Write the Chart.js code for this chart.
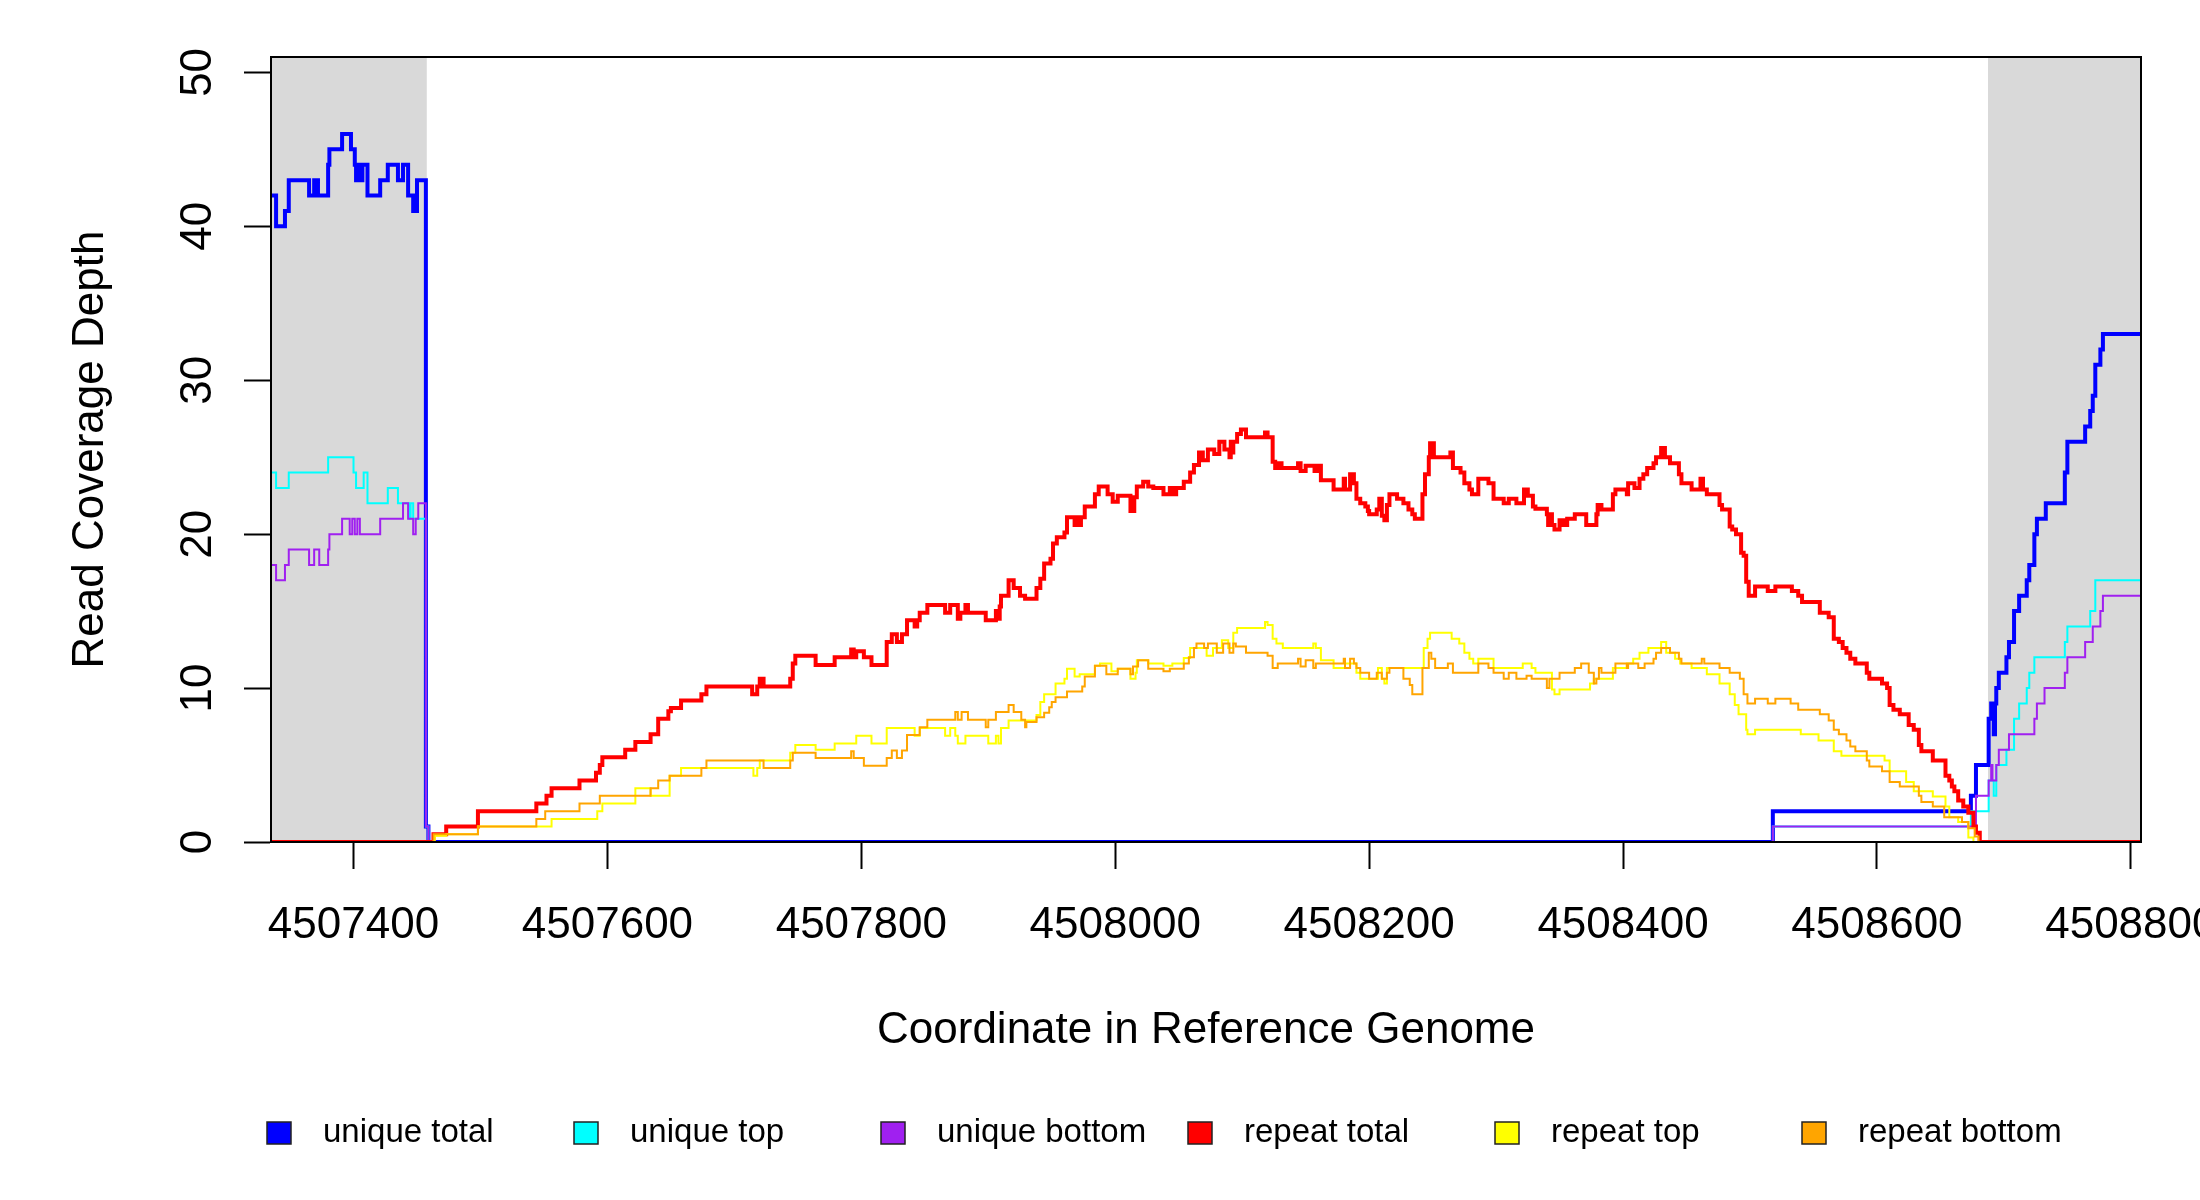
<!DOCTYPE html>
<html>
<head>
<meta charset="utf-8">
<title>Read Coverage Depth</title>
<script src="https://cdn.jsdelivr.net/npm/chart.js@4/dist/chart.umd.min.js"></script>
<style>
  html, body { margin: 0; padding: 0; background: #fff; }
  #chart { display: block; }
</style>
</head>
<body>
<canvas id="chart" width="2200" height="1200"></canvas>
<script>
// step points: [genome coordinate where the step starts, depth]
const uniqueTotal = [
  [4507335,42],[4507339,40],[4507346,41],[4507349,43],[4507365,42],[4507369,43],[4507372,42],[4507380,44],
  [4507381,45],[4507391,46],[4507398,45],[4507401,44],[4507402,43],[4507404,44],[4507405,43],[4507407,44],
  [4507411,42],[4507421,43],[4507427,44],[4507435,43],[4507439,44],[4507443,42],[4507447,41],[4507450,43],
  [4507457,1],[4507459,0],[4508518,2],[4508674,3],[4508678,5],[4508688,8],[4508690,9],[4508692,7],
  [4508693,9],[4508694,10],[4508696,11],[4508702,12],[4508704,13],[4508708,15],[4508712,16],[4508718,17],
  [4508720,18],[4508724,20],[4508726,21],[4508733,22],[4508748,24],[4508750,26],[4508764,27],[4508768,28],
  [4508770,29],[4508772,31],[4508776,32],[4508778,33],[4508808,33]
];

const uniqueTop = [
  [4507335,24],[4507339,23],[4507349,24],[4507380,25],[4507400,24],[4507402,23],[4507408,24],[4507411,22],
  [4507427,23],[4507435,22],[4507444,21],[4507445,22],[4507447,21],[4507457,1],[4507459,0],[4508518,1],
  [4508674,2],[4508688,4],[4508692,3],[4508694,5],[4508702,6],[4508708,8],[4508712,9],[4508718,10],
  [4508720,11],[4508724,12],[4508748,13],[4508750,14],[4508768,15],[4508772,17],[4508808,17]
];

const uniqueBottom = [
  [4507335,18],[4507339,17],[4507346,18],[4507349,19],[4507365,18],[4507369,19],[4507373,18],[4507380,19],
  [4507381,20],[4507391,21],[4507397,20],[4507399,21],[4507401,20],[4507403,21],[4507405,20],[4507421,21],
  [4507439,22],[4507443,21],[4507447,20],[4507449,21],[4507451,22],[4507457,1],[4507459,0],[4508518,1],
  [4508678,3],[4508688,4],[4508690,5],[4508691,4],[4508694,5],[4508696,6],[4508704,7],[4508724,8],
  [4508726,9],[4508732,10],[4508748,11],[4508750,12],[4508764,13],[4508770,14],[4508776,15],[4508778,16],
  [4508808,16]
];

const repeatTotal = [
  [4507335,0],[4507463,0.5],[4507473,1],[4507498,2],[4507544,2.5],[4507552,3],[4507556,3.5],[4507578,4],
  [4507591,4.5],[4507594,5],[4507596,5.5],[4507614,6],[4507622,6.5],[4507634,7],[4507640,8],[4507648,8.5],
  [4507650,8.7],[4507658,9.2],[4507674,9.6],[4507678,10.1],[4507714,9.6],[4507718,10.1],[4507720,10.6],[4507723,10.1],
  [4507744,10.6],[4507746,11.6],[4507748,12.1],[4507764,11.5],[4507779,12],[4507792,12.5],[4507794,12],[4507796,12.4],
  [4507802,12],[4507808,11.5],[4507820,13],[4507824,13.5],[4507828,13],[4507832,13.5],[4507836,14.4],[4507842,14],
  [4507844,14.4],[4507846,14.9],[4507852,15.4],[4507866,14.9],[4507870,15.4],[4507876,14.5],[4507878,14.9],[4507882,15.4],
  [4507884,14.9],[4507898,14.4],[4507906,15],[4507908,14.5],[4507909,15.3],[4507910,16],[4507916,17],[4507920,16.5],
  [4507925,16],[4507929,15.8],[4507938,16.5],[4507941,17.1],[4507944,18.1],[4507949,18.4],[4507951,19.4],[4507954,19.8],
  [4507960,20.1],[4507962,21.1],[4507968,20.6],[4507970,21.1],[4507971,20.6],[4507973,21.1],[4507976,21.8],[4507984,22.6],
  [4507987,23.1],[4507994,22.6],[4507998,22.1],[4508002,22.5],[4508012,21.5],[4508015,22.4],[4508017,23.1],[4508022,23.4],
  [4508026,23.1],[4508030,23],[4508038,22.6],[4508043,23],[4508045,22.6],[4508048,23],[4508054,23.4],[4508059,24],
  [4508062,24.5],[4508066,25.3],[4508069,24.8],[4508073,25.5],[4508078,25.2],[4508082,26],[4508086,25.5],[4508090,25],
  [4508091,26],[4508092,25.3],[4508093,26],[4508096,26.5],[4508099,26.8],[4508103,26.3],[4508118,26.6],[4508120,26.3],
  [4508124,24.7],[4508126,24.3],[4508128,24.6],[4508131,24.3],[4508144,24.6],[4508146,24.1],[4508150,24.45],[4508157,24.1],
  [4508159,24.45],[4508162,23.5],[4508172,22.9],[4508180,23.6],[4508181,22.9],[4508185,23.9],[4508188,23.3],[4508190,22.3],
  [4508193,22],[4508197,21.8],[4508199,21.5],[4508200,21.3],[4508206,21.6],[4508208,22.3],[4508210,21.2],[4508212,20.9],
  [4508214,21.9],[4508216,22.6],[4508222,22.3],[4508227,22],[4508231,21.6],[4508234,21.3],[4508236,21],[4508242,22.6],
  [4508244,23.9],[4508247,25],[4508248,25.9],[4508251,25],[4508264,25.3],[4508266,24.3],[4508272,24],[4508275,23.3],
  [4508279,22.9],[4508281,22.6],[4508286,23.6],[4508294,23.3],[4508298,22.3],[4508306,22],[4508310,22.3],[4508316,22],
  [4508322,22.9],[4508325,22.5],[4508329,21.8],[4508331,21.65],[4508340,21.3],[4508341,20.6],[4508342,21.3],[4508344,20.6],
  [4508346,20.3],[4508350,20.9],[4508353,20.6],[4508356,21],[4508362,21.3],[4508371,20.6],[4508379,21.3],[4508380,21.9],
  [4508383,21.6],[4508392,22.6],[4508394,22.9],[4508403,22.6],[4508404,23.3],[4508409,23],[4508413,23.6],[4508416,23.9],
  [4508419,24.3],[4508424,24.6],[4508426,25],[4508430,25.6],[4508433,25],[4508437,24.6],[4508444,23.9],[4508446,23.3],
  [4508454,22.9],[4508461,23.6],[4508463,22.9],[4508466,22.6],[4508476,21.9],[4508478,21.6],[4508484,20.5],[4508486,20.3],
  [4508489,20],[4508493,18.8],[4508495,18.6],[4508497,16.9],[4508499,16],[4508504,16.6],[4508514,16.3],[4508520,16.6],
  [4508533,16.3],[4508538,16],[4508541,15.6],[4508555,14.9],[4508562,14.6],[4508566,13.2],[4508570,13],[4508573,12.6],
  [4508576,12.3],[4508579,11.9],[4508583,11.6],[4508592,11],[4508594,10.6],[4508604,10.3],[4508608,10],[4508610,8.9],
  [4508613,8.6],[4508618,8.3],[4508625,7.6],[4508629,7.3],[4508633,6.3],[4508635,5.9],[4508644,5.3],[4508654,4.3],
  [4508657,4],[4508659,3.6],[4508661,3.3],[4508664,2.7],[4508668,2.3],[4508672,1.9],[4508676,1],[4508678,0.6],
  [4508681,0],[4508808,0]
];

const repeatTop = [
  [4507335,0],[4507464,0.4],[4507473,0.5],[4507498,1],[4507556,1.5],[4507592,2],[4507596,2.5],[4507622,3.5],
  [4507634,3],[4507649,4.3],[4507658,4.8],[4507715,4.3],[4507718,4.8],[4507720,5.3],[4507744,5.8],[4507748,6.3],
  [4507764,6],[4507779,6.4],[4507796,6.9],[4507808,6.4],[4507820,7.4],[4507842,6.9],[4507846,7.4],[4507866,6.9],
  [4507870,7.4],[4507874,6.9],[4507876,6.4],[4507882,6.9],[4507900,6.4],[4507906,6.9],[4507908,6.4],[4507910,7.4],
  [4507916,7.9],[4507938,8.25],[4507941,9.1],[4507944,9.6],[4507953,10.3],[4507960,10.6],[4507962,11.25],[4507968,10.75],
  [4507972,10.9],[4507984,11.45],[4507988,11.6],[4507997,11.1],[4508002,11.25],[4508012,10.6],[4508016,11],[4508017,11.8],
  [4508026,11.6],[4508038,11.45],[4508045,11.6],[4508054,11.95],[4508059,12.6],[4508072,12.1],[4508077,12.6],[4508084,13.1],
  [4508089,12.6],[4508093,13.6],[4508096,13.9],[4508118,14.3],[4508120,14.1],[4508124,13.2],[4508127,12.9],[4508132,12.6],
  [4508156,12.9],[4508158,12.6],[4508162,11.8],[4508172,11.3],[4508181,11.6],[4508190,11],[4508193,10.6],[4508207,11.3],
  [4508210,10.6],[4508212,10.3],[4508214,11.3],[4508243,12.6],[4508246,13.2],[4508248,13.6],[4508265,13.2],[4508271,12.9],
  [4508275,12.3],[4508279,11.9],[4508282,11.6],[4508286,11.9],[4508298,11.3],[4508321,11.6],[4508328,11.3],[4508331,11],
  [4508344,9.9],[4508346,9.6],[4508350,9.9],[4508374,10.3],[4508377,10.6],[4508392,11.3],[4508403,11.6],[4508408,11.9],
  [4508413,12.3],[4508420,12.6],[4508430,13],[4508434,12.3],[4508441,11.9],[4508445,11.6],[4508454,11.3],[4508466,10.9],
  [4508476,10.3],[4508484,9.6],[4508488,8.9],[4508491,8.3],[4508497,7.3],[4508498,7],[4508504,7.3],[4508540,7],
  [4508554,6.6],[4508566,5.9],[4508572,5.6],[4508606,5.3],[4508610,4.6],[4508623,3.9],[4508629,3.3],[4508644,2.95],
  [4508654,2.3],[4508657,1.6],[4508664,1.3],[4508672,0.3],[4508676,0],[4508808,0]
];

const repeatBottom = [
  [4507335,0],[4507463,0.5],[4507498,1],[4507544,1.5],[4507551,2],[4507578,2.5],[4507594,3],[4507634,3.5],
  [4507640,4],[4507649,4.3],[4507674,4.8],[4507678,5.3],[4507723,4.8],[4507744,5.3],[4507746,5.8],[4507764,5.45],
  [4507792,5.9],[4507794,5.45],[4507802,4.95],[4507820,5.45],[4507824,5.95],[4507828,5.45],[4507832,5.95],[4507836,6.95],
  [4507846,7.45],[4507852,7.95],[4507874,8.45],[4507876,7.95],[4507879,8.45],[4507884,7.95],[4507898,7.45],[4507900,7.95],
  [4507906,8.45],[4507916,8.9],[4507920,8.45],[4507926,7.95],[4507929,7.45],[4507930,7.8],[4507938,8.1],[4507944,8.4],
  [4507948,8.75],[4507950,9.1],[4507953,9.4],[4507962,9.77],[4507974,10.1],[4507976,10.75],[4507984,11.45],[4507993,10.9],
  [4508002,11.25],[4508012,10.9],[4508014,11.4],[4508018,11.8],[4508026,11.25],[4508038,11.1],[4508043,11.25],[4508054,11.6],
  [4508058,12],[4508062,12.6],[4508064,12.9],[4508070,12.6],[4508073,12.9],[4508080,12.3],[4508085,12.9],[4508090,12.3],
  [4508093,12.9],[4508095,12.7],[4508103,12.3],[4508120,12.1],[4508124,11.3],[4508128,11.6],[4508144,11.9],[4508146,11.4],
  [4508150,11.8],[4508156,11.3],[4508158,11.6],[4508180,11.9],[4508181,11.3],[4508185,11.9],[4508188,11.6],[4508190,11.3],
  [4508193,11],[4508200,10.6],[4508206,11],[4508210,10.6],[4508214,11],[4508216,11.3],[4508227,10.6],[4508232,10.2],
  [4508234,9.6],[4508242,11.3],[4508247,12.3],[4508249,11.9],[4508252,11.3],[4508262,11.6],[4508266,11],[4508286,11.6],
  [4508294,11.3],[4508298,11],[4508306,10.6],[4508310,11],[4508316,10.6],[4508324,10.8],[4508328,10.6],[4508340,10],
  [4508342,10.6],[4508350,11],[4508362,11.3],[4508367,11.6],[4508373,11],[4508377,10.3],[4508379,10.6],[4508381,11.3],
  [4508383,11],[4508394,11.6],[4508403,11.3],[4508404,11.6],[4508412,11.3],[4508417,11.6],[4508424,11.9],[4508426,12.3],
  [4508430,12.6],[4508437,12.3],[4508444,11.9],[4508446,11.6],[4508462,11.9],[4508464,11.6],[4508476,11.3],[4508484,11],
  [4508492,10.6],[4508495,9.6],[4508498,9],[4508504,9.3],[4508514,9],[4508520,9.3],[4508532,9],[4508538,8.6],
  [4508555,8.3],[4508562,7.9],[4508566,7.3],[4508570,7],[4508576,6.6],[4508579,6.2],[4508583,5.9],[4508592,5.3],
  [4508594,4.9],[4508604,4.6],[4508610,3.9],[4508618,3.6],[4508633,3],[4508635,2.6],[4508644,2.3],[4508653,1.6],
  [4508667,1.3],[4508672,0.9],[4508677,0.35],[4508680,0],[4508808,0]
];

const seriesLabels = ['unique total', 'unique top', 'unique bottom', 'repeat total', 'repeat top', 'repeat bottom'];
const seriesColors = ['#0000ff', '#00ffff', '#a020f0', '#ff0000', '#ffff00', '#ffa500'];

// flanking regions shaded in grey
const shadedRanges = [[4507335, 4507457.7], [4508687.5, 4508808]];

const xMin = 4507335;
const xMax = 4508808;
const yMax = 51;

const FONT = '"Liberation Sans", Arial, Helvetica, sans-serif';
Chart.defaults.font.family = FONT;
Chart.defaults.color = '#000';

const toPoints = series => series.map(p => ({ x: p[0], y: p[1] }));
const allSeries = [uniqueTotal, uniqueTop, uniqueBottom, repeatTotal, repeatTop, repeatBottom];

const datasets = allSeries.map((series, i) => ({
    label: seriesLabels[i],
    data: toPoints(series),
    borderColor: seriesColors[i],
    backgroundColor: seriesColors[i],
    borderWidth: (i === 0 || i === 3) ? 4 : 2,
    stepped: true,
    pointRadius: 0,
    fill: false,
    order: allSeries.length - i   // later series are drawn on top
}));

const shadePlugin = {
    id: 'shade',
    beforeDatasetsDraw(chart) {
        const { ctx, chartArea, scales } = chart;
        ctx.save();
        ctx.fillStyle = '#d9d9d9';
        shadedRanges.forEach(r => {
            const x1 = scales.x.getPixelForValue(r[0]);
            const x2 = scales.x.getPixelForValue(r[1]);
            ctx.fillRect(x1, chartArea.top, x2 - x1, chartArea.bottom - chartArea.top);
        });
        ctx.restore();
    }
};

const framePlugin = {
    id: 'frame',
    afterDatasetsDraw(chart) {
        const { ctx, chartArea } = chart;
        ctx.save();
        ctx.strokeStyle = '#000';
        ctx.lineWidth = 2;
        ctx.strokeRect(chartArea.left, chartArea.top, chartArea.right - chartArea.left, chartArea.bottom - chartArea.top);
        ctx.restore();
    }
};

const legendPlugin = {
    id: 'boxLegend',
    afterDraw(chart) {
        const ctx = chart.ctx;
        ctx.save();
        ctx.font = '33px ' + FONT;
        ctx.textBaseline = 'middle';
        ctx.textAlign = 'left';
        chart.data.datasets.forEach((ds, i) => {
            const cx = 279 + i * 307;
            const cy = 1133;
            ctx.fillStyle = ds.borderColor;
            ctx.fillRect(cx - 12, cy - 11, 24, 22);
            ctx.strokeStyle = '#222';
            ctx.lineWidth = 1.5;
            ctx.strokeRect(cx - 12, cy - 11, 24, 22);
            ctx.fillStyle = '#000';
            ctx.fillText(ds.label, cx + 44, cy);
        });
        ctx.restore();
    }
};

new Chart(document.getElementById('chart'), {
    type: 'line',
    data: { datasets: datasets },
    options: {
        responsive: false,
        animation: false,
        devicePixelRatio: 1,
        layout: { padding: { left: 0, right: 59, top: 57, bottom: 128 } },
        plugins: {
            legend: { display: false },
            tooltip: { enabled: false }
        },
        scales: {
            x: {
                type: 'linear',
                min: xMin,
                max: xMax,
                ticks: {
                    stepSize: 200,
                    includeBounds: false,
                    autoSkip: false,
                    maxRotation: 0,
                    padding: 30,
                    color: '#000',
                    font: { size: 44 },
                    callback: v => String(v)
                },
                grid: {
                    drawOnChartArea: false,
                    drawTicks: true,
                    tickLength: 27,
                    tickColor: '#000',
                    tickWidth: 2
                },
                border: { display: true, color: '#000', width: 2 },
                title: {
                    display: true,
                    text: 'Coordinate in Reference Genome',
                    color: '#000',
                    font: { size: 44 },
                    padding: { top: 0, bottom: 15 }
                },
                afterFit(scale) {
                    scale.height = 230;
                    scale.paddingLeft = 0;
                    scale.paddingRight = 0;
                }
            },
            y: {
                min: 0,
                max: yMax,
                ticks: {
                    stepSize: 10,
                    includeBounds: false,
                    minRotation: 90,
                    maxRotation: 90,
                    crossAlign: 'center',
                    padding: 21,
                    color: '#000',
                    font: { size: 44 }
                },
                grid: {
                    drawOnChartArea: false,
                    drawTicks: true,
                    tickLength: 27,
                    tickColor: '#000',
                    tickWidth: 2
                },
                border: { display: true, color: '#000', width: 2 },
                title: {
                    display: true,
                    text: 'Read Coverage Depth',
                    color: '#000',
                    font: { size: 44 },
                    padding: { top: 64, bottom: 0 }
                },
                afterFit(scale) {
                    scale.width = 271;
                    scale.paddingTop = 0;
                    scale.paddingBottom = 0;
                }
            }
        }
    },
    plugins: [shadePlugin, framePlugin, legendPlugin]
});
</script>
</body>
</html>
